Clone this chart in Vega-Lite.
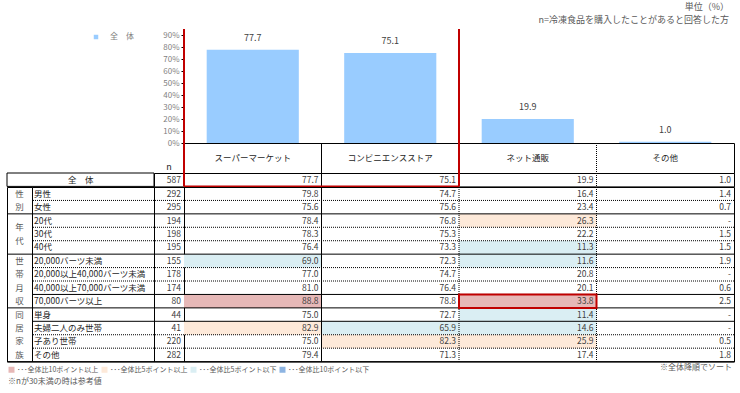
{
  "$schema": "https://vega.github.io/schema/vega-lite/v6.json",
  "padding": {"left": 6, "top": 3, "right": 0, "bottom": 0},
  "background": "white",
  "title": {
    "text": "単位（%）",
    "subtitle": "n=冷凍食品を購入したことがあると回答した方",
    "anchor": "end", "dx": -6,
    "fontSize": 9, "fontWeight": "normal", "color": "#595959",
    "subtitleFontSize": 9, "subtitleColor": "#595959", "subtitlePadding": 4,
    "offset": 3
  },
  "config": {
    "font": "Noto Sans CJK JP",
    "view": {"stroke": null},
    "concat": {"spacing": 0}
  },
  "resolve": {"scale": {"color": "independent"}, "legend": {"color": "independent"}},
  "datasets": {
    "bars": [
      {"cat": "スーパーマーケット", "v": 77.7},
      {"cat": "コンビニエンスストア", "v": 75.1},
      {"cat": "ネット通販", "v": 19.9},
      {"cat": "その他", "v": 1.0}
    ],
    "rows": [
      {"row": "全体", "group": "全体", "n": 587, "line": "group"},
      {"row": "男性", "group": "性別", "n": 292, "line": "dotted"},
      {"row": "女性", "group": "性別", "n": 295, "line": "group"},
      {"row": "20代", "group": "年代", "n": 194, "line": "dotted"},
      {"row": "30代", "group": "年代", "n": 198, "line": "dotted"},
      {"row": "40代", "group": "年代", "n": 195, "line": "group"},
      {"row": "20,000バーツ未満", "group": "世帯月収", "n": 155, "line": "dotted"},
      {"row": "20,000以上40,000バーツ未満", "group": "世帯月収", "n": 178, "line": "dotted"},
      {"row": "40,000以上70,000バーツ未満", "group": "世帯月収", "n": 174, "line": "solid"},
      {"row": "70,000バーツ以上", "group": "世帯月収", "n": 80, "line": "group"},
      {"row": "単身", "group": "同居家族", "n": 44, "line": "solid"},
      {"row": "夫婦二人のみ世帯", "group": "同居家族", "n": 41, "line": "dotted"},
      {"row": "子あり世帯", "group": "同居家族", "n": 220, "line": "dotted"},
      {"row": "その他", "group": "同居家族", "n": 282, "line": "group"}
    ],
    "groups": [
      {"group": "性別", "label": "性\n別", "mid": "女性"},
      {"group": "年代", "label": "年\n代", "mid": "30代"},
      {"group": "世帯月収", "label": "世\n帯\n月\n収", "mid": "40,000以上70,000バーツ未満"},
      {"group": "同居家族", "label": "同\n居\n家\n族", "mid": "子あり世帯"}
    ],
    "cells": [
      {"row": "全体", "cat": "スーパーマーケット", "v": 77.7},
      {"row": "全体", "cat": "コンビニエンスストア", "v": 75.1},
      {"row": "全体", "cat": "ネット通販", "v": 19.9},
      {"row": "全体", "cat": "その他", "v": 1.0},
      {"row": "男性", "cat": "スーパーマーケット", "v": 79.8},
      {"row": "男性", "cat": "コンビニエンスストア", "v": 74.7},
      {"row": "男性", "cat": "ネット通販", "v": 16.4},
      {"row": "男性", "cat": "その他", "v": 1.4},
      {"row": "女性", "cat": "スーパーマーケット", "v": 75.6},
      {"row": "女性", "cat": "コンビニエンスストア", "v": 75.6},
      {"row": "女性", "cat": "ネット通販", "v": 23.4},
      {"row": "女性", "cat": "その他", "v": 0.7},
      {"row": "20代", "cat": "スーパーマーケット", "v": 78.4},
      {"row": "20代", "cat": "コンビニエンスストア", "v": 76.8},
      {"row": "20代", "cat": "ネット通販", "v": 26.3, "level": "全体比5ポイント以上"},
      {"row": "20代", "cat": "その他", "v": null},
      {"row": "30代", "cat": "スーパーマーケット", "v": 78.3},
      {"row": "30代", "cat": "コンビニエンスストア", "v": 75.3},
      {"row": "30代", "cat": "ネット通販", "v": 22.2},
      {"row": "30代", "cat": "その他", "v": 1.5},
      {"row": "40代", "cat": "スーパーマーケット", "v": 76.4},
      {"row": "40代", "cat": "コンビニエンスストア", "v": 73.3},
      {"row": "40代", "cat": "ネット通販", "v": 11.3, "level": "全体比5ポイント以下"},
      {"row": "40代", "cat": "その他", "v": 1.5},
      {"row": "20,000バーツ未満", "cat": "スーパーマーケット", "v": 69.0, "level": "全体比5ポイント以下"},
      {"row": "20,000バーツ未満", "cat": "コンビニエンスストア", "v": 72.3},
      {"row": "20,000バーツ未満", "cat": "ネット通販", "v": 11.6, "level": "全体比5ポイント以下"},
      {"row": "20,000バーツ未満", "cat": "その他", "v": 1.9},
      {"row": "20,000以上40,000バーツ未満", "cat": "スーパーマーケット", "v": 77.0},
      {"row": "20,000以上40,000バーツ未満", "cat": "コンビニエンスストア", "v": 74.7},
      {"row": "20,000以上40,000バーツ未満", "cat": "ネット通販", "v": 20.8},
      {"row": "20,000以上40,000バーツ未満", "cat": "その他", "v": null},
      {"row": "40,000以上70,000バーツ未満", "cat": "スーパーマーケット", "v": 81.0},
      {"row": "40,000以上70,000バーツ未満", "cat": "コンビニエンスストア", "v": 76.4},
      {"row": "40,000以上70,000バーツ未満", "cat": "ネット通販", "v": 20.1},
      {"row": "40,000以上70,000バーツ未満", "cat": "その他", "v": 0.6},
      {"row": "70,000バーツ以上", "cat": "スーパーマーケット", "v": 88.8, "level": "全体比10ポイント以上"},
      {"row": "70,000バーツ以上", "cat": "コンビニエンスストア", "v": 78.8},
      {"row": "70,000バーツ以上", "cat": "ネット通販", "v": 33.8, "level": "全体比10ポイント以上"},
      {"row": "70,000バーツ以上", "cat": "その他", "v": 2.5},
      {"row": "単身", "cat": "スーパーマーケット", "v": 75.0},
      {"row": "単身", "cat": "コンビニエンスストア", "v": 72.7},
      {"row": "単身", "cat": "ネット通販", "v": 11.4, "level": "全体比5ポイント以下"},
      {"row": "単身", "cat": "その他", "v": null},
      {"row": "夫婦二人のみ世帯", "cat": "スーパーマーケット", "v": 82.9, "level": "全体比5ポイント以上"},
      {"row": "夫婦二人のみ世帯", "cat": "コンビニエンスストア", "v": 65.9, "level": "全体比5ポイント以下"},
      {"row": "夫婦二人のみ世帯", "cat": "ネット通販", "v": 14.6, "level": "全体比5ポイント以下"},
      {"row": "夫婦二人のみ世帯", "cat": "その他", "v": null},
      {"row": "子あり世帯", "cat": "スーパーマーケット", "v": 75.0},
      {"row": "子あり世帯", "cat": "コンビニエンスストア", "v": 82.3, "level": "全体比5ポイント以上"},
      {"row": "子あり世帯", "cat": "ネット通販", "v": 25.9, "level": "全体比5ポイント以上"},
      {"row": "子あり世帯", "cat": "その他", "v": 0.5},
      {"row": "その他", "cat": "スーパーマーケット", "v": 79.4},
      {"row": "その他", "cat": "コンビニエンスストア", "v": 71.3},
      {"row": "その他", "cat": "ネット通販", "v": 17.4},
      {"row": "その他", "cat": "その他", "v": 1.8}
    ]
  },
  "columns": 4,
  "spacing": 0,
  "bounds": "flush",
  "align": "each",
  "concat": [
    {"width": 25, "height": 114, "data": {"values": [{}]}, "mark": {"type": "text", "text": ""}, "encoding": {}},
    {"width": 122, "height": 114, "data": {"values": [{}]}, "mark": {"type": "text", "text": ""}, "encoding": {}},
    {"width": 30, "height": 114, "data": {"values": [{}]}, "mark": {"type": "text", "text": ""}, "encoding": {}},
    {
      "width": 550, "height": 114,
      "data": {"name": "bars"},
      "encoding": {
        "x": {"field": "cat", "type": "nominal", "scale": {"domain": ["スーパーマーケット", "コンビニエンスストア", "ネット通販", "その他"], "paddingInner": 0, "paddingOuter": 0}, "axis": null},
        "y": {"field": "v", "type": "quantitative", "scale": {"domain": [0, 95]},
          "axis": {"values": [0, 10, 20, 30, 40, 50, 60, 70, 80, 90], "tickCount": 10, "labelExpr": "datum.value + '%'", "labelOverlap": false, "grid": false, "domain": false, "tickColor": "#000", "tickSize": 3, "labelFontSize": 8, "labelColor": "#7f7f7f", "labelPadding": 2, "title": null}}
      },
      "layer": [
        {
          "mark": {"type": "bar", "width": {"band": 0.67}},
          "encoding": {
            "color": {"datum": "全　体", "type": "nominal", "scale": {"range": ["#99CCFF"]},
              "legend": {"orient": "none", "legendX": -92, "legendY": 4, "title": null, "symbolType": "square", "symbolSize": 20, "symbolStrokeWidth": 0, "labelFontSize": 8, "labelColor": "#7f7f7f", "labelOffset": 10, "padding": 0}}
          }
        },
        {
          "mark": {"type": "text", "baseline": "bottom", "dy": -7, "fontSize": 9, "color": "#404040"},
          "encoding": {"text": {"field": "v", "type": "quantitative", "format": ".1f"}}
        },
        {"data": {"values": [{}]}, "mark": {"type": "rule", "color": "#C00000", "strokeWidth": 2}, "encoding": {"y": null, "x": {"datum": "スーパーマーケット", "type": "nominal", "bandPosition": 0}}},
        {"data": {"values": [{}]}, "mark": {"type": "rule", "color": "#C00000", "strokeWidth": 2}, "encoding": {"y": null, "x": {"datum": "コンビニエンスストア", "type": "nominal", "bandPosition": 1}}},
        {"data": {"values": [{}]}, "mark": {"type": "rule", "color": "#C00000", "strokeWidth": 2}, "encoding": {"x": {"datum": "スーパーマーケット", "type": "nominal", "bandPosition": 0}, "x2": {"datum": "コンビニエンスストア", "bandPosition": 1}, "y": {"datum": 95, "type": "quantitative"}}}
      ]
    },
    {"width": 25, "height": 30, "data": {"values": [{}]}, "mark": {"type": "text", "text": ""}, "encoding": {}},
    {"width": 122, "height": 30, "data": {"values": [{}]}, "mark": {"type": "text", "text": ""}, "encoding": {}},
    {"width": 30, "height": 30, "data": {"values": [{}]}, "mark": {"type": "text", "text": "n", "baseline": "middle", "dy": 9, "fontSize": 9, "color": "#262626"}, "encoding": {}},
    {
      "width": 550, "height": 30, "view": {"stroke": "#000"},
      "data": {"name": "bars"},
      "encoding": {"x": {"field": "cat", "type": "nominal", "scale": {"domain": ["スーパーマーケット", "コンビニエンスストア", "ネット通販", "その他"], "paddingInner": 0, "paddingOuter": 0}, "axis": null}},
      "layer": [
        {"mark": {"type": "text", "fontSize": 8.5, "color": "#262626"}, "encoding": {"text": {"field": "cat"}}},
        {"data": {"values": [{}]}, "mark": {"type": "rule", "color": "#000"}, "encoding": {"x": {"datum": "コンビニエンスストア", "type": "nominal", "bandPosition": 0}}},
        {"data": {"values": [{}]}, "mark": {"type": "rule", "color": "#000", "strokeDash": [1, 1]}, "encoding": {"x": {"datum": "ネット通販", "type": "nominal", "bandPosition": 0}}},
        {"data": {"values": [{}]}, "mark": {"type": "rule", "color": "#000", "strokeDash": [1, 1]}, "encoding": {"x": {"datum": "その他", "type": "nominal", "bandPosition": 0}}},
        {"data": {"values": [{}]}, "mark": {"type": "rule", "color": "#C00000", "strokeWidth": 2}, "encoding": {"x": {"datum": "スーパーマーケット", "type": "nominal", "bandPosition": 0}}},
        {"data": {"values": [{}]}, "mark": {"type": "rule", "color": "#C00000", "strokeWidth": 2}, "encoding": {"x": {"datum": "コンビニエンスストア", "type": "nominal", "bandPosition": 1}}}
      ]
    },
    {
      "width": 25, "height": 13.4,
      "data": {"values": [{"row": "全体"}]},
      "encoding": {
        "x": {"datum": "g", "type": "nominal", "scale": {"type": "band", "paddingInner": 0, "paddingOuter": 0}, "axis": null},
        "y": {"field": "row", "type": "nominal", "scale": {"type": "band", "paddingInner": 0, "paddingOuter": 0}, "axis": null}
      },
      "layer": [
        {"mark": {"type": "rule", "color": "#000"}, "encoding": {"x": null, "y": {"field": "row", "type": "nominal", "bandPosition": 0}}},
        {"mark": {"type": "rule", "color": "#000"}, "encoding": {"x": null, "y": {"field": "row", "type": "nominal", "bandPosition": 1}}},
        {"mark": {"type": "rule", "color": "#000"}, "encoding": {"y": null, "x": {"datum": "g", "type": "nominal", "bandPosition": 0}}}
      ]
    },
    {
      "width": 122, "height": 13.4,
      "data": {"values": [{"row": "全体"}]},
      "encoding": {
        "x": {"datum": "s", "type": "nominal", "scale": {"type": "band", "paddingInner": 0, "paddingOuter": 0}, "axis": null},
        "y": {"field": "row", "type": "nominal", "scale": {"type": "band", "paddingInner": 0, "paddingOuter": 0}, "axis": null}
      },
      "layer": [
        {"mark": {"type": "text", "text": "全　体", "fontSize": 8.5, "color": "#262626"}, "encoding": {"x": {"datum": "s", "type": "nominal", "bandPosition": 0.4}, "y": {"field": "row", "type": "nominal", "bandPosition": 0.5}}},
        {"mark": {"type": "rule", "color": "#000"}, "encoding": {"x": null, "y": {"field": "row", "type": "nominal", "bandPosition": 0}}},
        {"mark": {"type": "rule", "color": "#000"}, "encoding": {"x": null, "y": {"field": "row", "type": "nominal", "bandPosition": 1}}},
        {"mark": {"type": "rule", "color": "#000"}, "encoding": {"y": null, "x": {"datum": "s", "type": "nominal", "bandPosition": 1}}}
      ]
    },
    {
      "width": 30, "height": 13.4, "view": {"stroke": "#000"},
      "data": {"name": "rows"},
      "transform": [{"filter": "datum.row == '全体'"}],
      "mark": {"type": "text", "align": "right", "dx": -3, "fontSize": 8.5, "color": "#404040"},
      "encoding": {
        "x": {"datum": "n", "type": "nominal", "bandPosition": 1, "scale": {"type": "band", "paddingInner": 0, "paddingOuter": 0}, "axis": null},
        "text": {"field": "n", "type": "quantitative"}
      }
    },
    {
      "width": 550, "height": 13.4, "view": {"stroke": "#000"},
      "data": {"name": "cells"},
      "transform": [{"filter": "datum.row == '全体'"}, {"calculate": "datum.v == null ? '-' : format(datum.v, '.1f')", "as": "label"}],
      "encoding": {"x": {"field": "cat", "type": "nominal", "scale": {"domain": ["スーパーマーケット", "コンビニエンスストア", "ネット通販", "その他"], "paddingInner": 0, "paddingOuter": 0}, "axis": null}},
      "layer": [
        {
          "mark": {"type": "text", "align": "right", "dx": -3, "fontSize": 8.5, "color": "#404040"},
          "encoding": {"x": {"field": "cat", "type": "nominal", "bandPosition": 1}, "y": {"field": "row", "type": "nominal", "scale": {"paddingInner": 0, "paddingOuter": 0}, "axis": null}, "text": {"field": "label"}}
        },
        {"data": {"values": [{}]}, "mark": {"type": "rule", "color": "#000"}, "encoding": {"x": {"datum": "コンビニエンスストア", "type": "nominal", "bandPosition": 0}}},
        {"data": {"values": [{}]}, "mark": {"type": "rule", "color": "#000", "strokeDash": [1, 1]}, "encoding": {"x": {"datum": "ネット通販", "type": "nominal", "bandPosition": 0}}},
        {"data": {"values": [{}]}, "mark": {"type": "rule", "color": "#000", "strokeDash": [1, 1]}, "encoding": {"x": {"datum": "その他", "type": "nominal", "bandPosition": 0}}},
        {"data": {"values": [{}]}, "mark": {"type": "rule", "color": "#C00000", "strokeWidth": 2}, "encoding": {"x": {"datum": "スーパーマーケット", "type": "nominal", "bandPosition": 0}}},
        {"data": {"values": [{}]}, "mark": {"type": "rule", "color": "#C00000", "strokeWidth": 2}, "encoding": {"x": {"datum": "コンビニエンスストア", "type": "nominal", "bandPosition": 1}}},
        {"data": {"values": [{}]}, "mark": {"type": "rule", "color": "#C00000", "strokeWidth": 2}, "encoding": {"x": {"datum": "スーパーマーケット", "type": "nominal", "bandPosition": 0}, "x2": {"datum": "コンビニエンスストア", "bandPosition": 1}, "y": {"datum": "全体", "type": "nominal", "bandPosition": 1}}}
      ]
    },
    {
      "width": 25, "height": 174.6, "view": {"stroke": "#000"},
      "layer": [
        {
          "data": {"name": "groups"},
          "transform": [{"filter": "datum.group == '性別'"}],
          "mark": {"type": "text", "lineBreak": "\n", "lineHeight": 13.4, "baseline": "middle", "dy": -6.7, "fontSize": 8.5, "color": "#595959"},
          "encoding": {
            "y": {"field": "mid", "type": "nominal", "bandPosition": 0, "scale": {"domain": ["男性", "女性", "20代", "30代", "40代", "20,000バーツ未満", "20,000以上40,000バーツ未満", "40,000以上70,000バーツ未満", "70,000バーツ以上", "単身", "夫婦二人のみ世帯", "子あり世帯", "その他"], "paddingInner": 0, "paddingOuter": 0}, "axis": null},
            "text": {"field": "label"}
          }
        },
        {
          "data": {"name": "groups"},
          "transform": [{"filter": "datum.group == '年代'"}],
          "mark": {"type": "text", "lineBreak": "\n", "lineHeight": 14, "baseline": "middle", "dy": -7, "fontSize": 8.5, "color": "#595959"},
          "encoding": {
            "y": {"field": "mid", "type": "nominal", "bandPosition": 0.5},
            "text": {"field": "label"}
          }
        },
        {
          "data": {"name": "groups"},
          "transform": [{"filter": "datum.group == '世帯月収' || datum.group == '同居家族'"}],
          "mark": {"type": "text", "lineBreak": "\n", "lineHeight": 13.4, "baseline": "middle", "dy": -20.1, "fontSize": 8.5, "color": "#595959"},
          "encoding": {
            "y": {"field": "mid", "type": "nominal", "bandPosition": 0},
            "text": {"field": "label"}
          }
        },
        {
          "data": {"name": "rows"},
          "transform": [{"filter": "datum.row != '全体' && datum.line == 'group'"}],
          "mark": {"type": "rule", "color": "#000"},
          "encoding": {"y": {"field": "row", "type": "nominal", "bandPosition": 1}}
        }
      ]
    },
    {
      "width": 122, "height": 174.6, "view": {"stroke": "#000"},
      "data": {"name": "rows"},
      "transform": [{"filter": "datum.row != '全体'"}],
      "encoding": {"y": {"field": "row", "type": "nominal", "scale": {"domain": ["男性", "女性", "20代", "30代", "40代", "20,000バーツ未満", "20,000以上40,000バーツ未満", "40,000以上70,000バーツ未満", "70,000バーツ以上", "単身", "夫婦二人のみ世帯", "子あり世帯", "その他"], "paddingInner": 0, "paddingOuter": 0}, "axis": null}},
      "layer": [
        {
          "mark": {"type": "text", "align": "left", "dx": 2, "fontSize": 8.5, "color": "#262626"},
          "encoding": {
            "x": {"datum": "label", "type": "nominal", "bandPosition": 0, "scale": {"type": "band", "paddingInner": 0, "paddingOuter": 0}, "axis": null},
            "text": {"field": "row"}
          }
        },
        {
          "transform": [{"filter": "datum.line != 'dotted'"}],
          "mark": {"type": "rule", "color": "#000"},
          "encoding": {"y": {"field": "row", "type": "nominal", "bandPosition": 1}}
        },
        {
          "transform": [{"filter": "datum.line == 'dotted'"}],
          "mark": {"type": "rule", "color": "#000", "strokeDash": [1, 1]},
          "encoding": {"y": {"field": "row", "type": "nominal", "bandPosition": 1}}
        }
      ]
    },
    {
      "width": 30, "height": 174.6, "view": {"stroke": "#000"},
      "data": {"name": "rows"},
      "transform": [{"filter": "datum.row != '全体'"}],
      "encoding": {"y": {"field": "row", "type": "nominal", "scale": {"domain": ["男性", "女性", "20代", "30代", "40代", "20,000バーツ未満", "20,000以上40,000バーツ未満", "40,000以上70,000バーツ未満", "70,000バーツ以上", "単身", "夫婦二人のみ世帯", "子あり世帯", "その他"], "paddingInner": 0, "paddingOuter": 0}, "axis": null}},
      "layer": [
        {
          "mark": {"type": "text", "align": "right", "dx": -3, "fontSize": 8.5, "color": "#404040"},
          "encoding": {
            "x": {"datum": "n", "type": "nominal", "bandPosition": 1, "scale": {"type": "band", "paddingInner": 0, "paddingOuter": 0}, "axis": null},
            "text": {"field": "n", "type": "quantitative"}
          }
        },
        {
          "transform": [{"filter": "datum.line != 'dotted'"}],
          "mark": {"type": "rule", "color": "#000"},
          "encoding": {"y": {"field": "row", "type": "nominal", "bandPosition": 1}}
        },
        {
          "transform": [{"filter": "datum.line == 'dotted'"}],
          "mark": {"type": "rule", "color": "#000", "strokeDash": [1, 1]},
          "encoding": {"y": {"field": "row", "type": "nominal", "bandPosition": 1}}
        }
      ]
    },
    {
      "width": 550, "height": 174.6, "view": {"stroke": "#000"},
      "encoding": {
        "x": {"field": "cat", "type": "nominal", "scale": {"domain": ["スーパーマーケット", "コンビニエンスストア", "ネット通販", "その他"], "paddingInner": 0, "paddingOuter": 0}, "axis": null},
        "y": {"field": "row", "type": "nominal", "scale": {"domain": ["男性", "女性", "20代", "30代", "40代", "20,000バーツ未満", "20,000以上40,000バーツ未満", "40,000以上70,000バーツ未満", "70,000バーツ以上", "単身", "夫婦二人のみ世帯", "子あり世帯", "その他"], "paddingInner": 0, "paddingOuter": 0}, "axis": null}
      },
      "layer": [
        {
          "data": {"name": "cells"},
          "transform": [{"filter": "datum.row != '全体' && datum.level != null"}],
          "mark": {"type": "rect"},
          "encoding": {
            "color": {"field": "level", "type": "nominal",
              "scale": {"domain": ["全体比10ポイント以上", "全体比5ポイント以上", "全体比5ポイント以下", "全体比10ポイント以下"], "range": ["#E6B8B7", "#FDE9D9", "#DAEEF3", "#8DB4E2"]},
              "legend": {"orient": "none", "legendX": -176, "legendY": 179, "direction": "horizontal", "columns": 4, "title": "※nが30未満の時は参考値", "titleOrient": "bottom", "titleAnchor": "start", "titleFontSize": 8, "titleFontWeight": "normal", "titleColor": "#595959", "titlePadding": 5, "symbolType": "square", "symbolSize": 36, "symbolStrokeWidth": 0, "labelFontSize": 7, "labelColor": "#595959", "labelExpr": "'･･･' + datum.label", "labelOffset": 2, "columnPadding": 2, "padding": 0, "labelLimit": 200}}
          }
        },
        {
          "data": {"name": "cells"},
          "transform": [{"filter": "datum.row != '全体'"}, {"calculate": "datum.v == null ? '-' : format(datum.v, '.1f')", "as": "label"}],
          "mark": {"type": "text", "align": "right", "dx": -3, "fontSize": 8.5, "color": "#404040"},
          "encoding": {"x": {"field": "cat", "type": "nominal", "bandPosition": 1}, "text": {"field": "label"}}
        },
        {
          "data": {"name": "rows"},
          "transform": [{"filter": "datum.row != '全体' && datum.line != 'dotted'"}],
          "mark": {"type": "rule", "color": "#000"},
          "encoding": {"x": null, "y": {"field": "row", "type": "nominal", "bandPosition": 1}}
        },
        {
          "data": {"name": "rows"},
          "transform": [{"filter": "datum.line == 'dotted'"}],
          "mark": {"type": "rule", "color": "#000", "strokeDash": [1, 1]},
          "encoding": {"x": null, "y": {"field": "row", "type": "nominal", "bandPosition": 1}}
        },
        {"data": {"values": [{}]}, "mark": {"type": "rule", "color": "#000"}, "encoding": {"y": null, "x": {"datum": "コンビニエンスストア", "type": "nominal", "bandPosition": 0}}},
        {"data": {"values": [{}]}, "mark": {"type": "rule", "color": "#000", "strokeDash": [1, 1]}, "encoding": {"y": null, "x": {"datum": "ネット通販", "type": "nominal", "bandPosition": 0}}},
        {"data": {"values": [{}]}, "mark": {"type": "rule", "color": "#000", "strokeDash": [1, 1]}, "encoding": {"y": null, "x": {"datum": "その他", "type": "nominal", "bandPosition": 0}}},
        {"data": {"values": [{}]}, "mark": {"type": "rect", "fill": "transparent", "stroke": "#C00000", "strokeWidth": 2}, "encoding": {"x": {"datum": "ネット通販", "type": "nominal"}, "y": {"datum": "70,000バーツ以上", "type": "nominal"}}},
        {"data": {"values": [{}]}, "mark": {"type": "text", "text": "※全体降順でソート", "align": "right", "baseline": "top", "dy": 2, "dx": -2, "fontSize": 8, "color": "#595959"}, "encoding": {"x": {"datum": "その他", "type": "nominal", "bandPosition": 1}, "y": {"datum": "その他", "type": "nominal", "bandPosition": 1}}}
      ]
    }
  ]
}
